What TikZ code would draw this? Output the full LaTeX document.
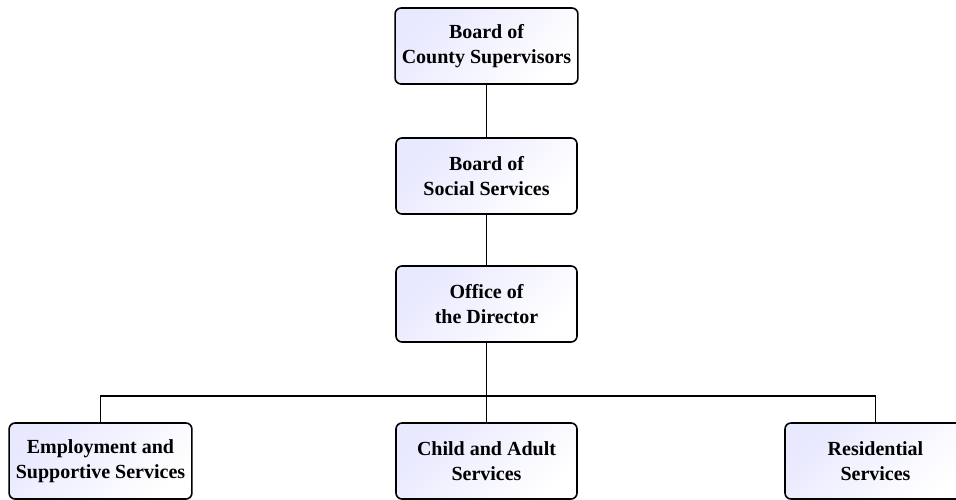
\documentclass[tikz,border=0pt]{standalone}
\usepackage{fontspec}
\setmainfont{Liberation Serif}
\usepackage{tikz}

\tikzset{
	unit/.style={draw, line width=0.8pt, rounded corners=3pt,
		minimum width=90.5pt, minimum height=38pt, align=center,
		font=\bfseries\fontsize{10}{12.5}\selectfont,
		left color=blue!9, right color=white, shading angle=45},
	link/.style={line width=0.7pt}
}

\begin{document}
\begin{tikzpicture}[x=0.5pt, y=-0.5pt]
	\useasboundingbox (0,0) rectangle (956,499);
	
	% Boxes
	\node[unit] (bcs) at (486.5,46) {Board of\\County Supervisors};
	\node[unit] (bss) at (486.5,176) {Board of\\Social Services};
	\node[unit] (dir) at (486.5,304) {Office of\\the Director};
	\node[unit] (emp) at (100.5,461) {Employment and\\Supportive Services};
	\node[unit] (cas) at (486.5,461) {Child and Adult\\Services};
	\node[unit] (res) at (875.5,461) {Residential\\Services};
	
	% lines
	\coordinate (bus) at (486.5,396);
	\draw[link] (bcs) -- (bss);
	\draw[link] (bss) -- (dir);
	\draw[link] (dir) -- (cas);
	\draw[link] (emp.north) |- (bus) -| (res.north);
\end{tikzpicture}
\end{document}
